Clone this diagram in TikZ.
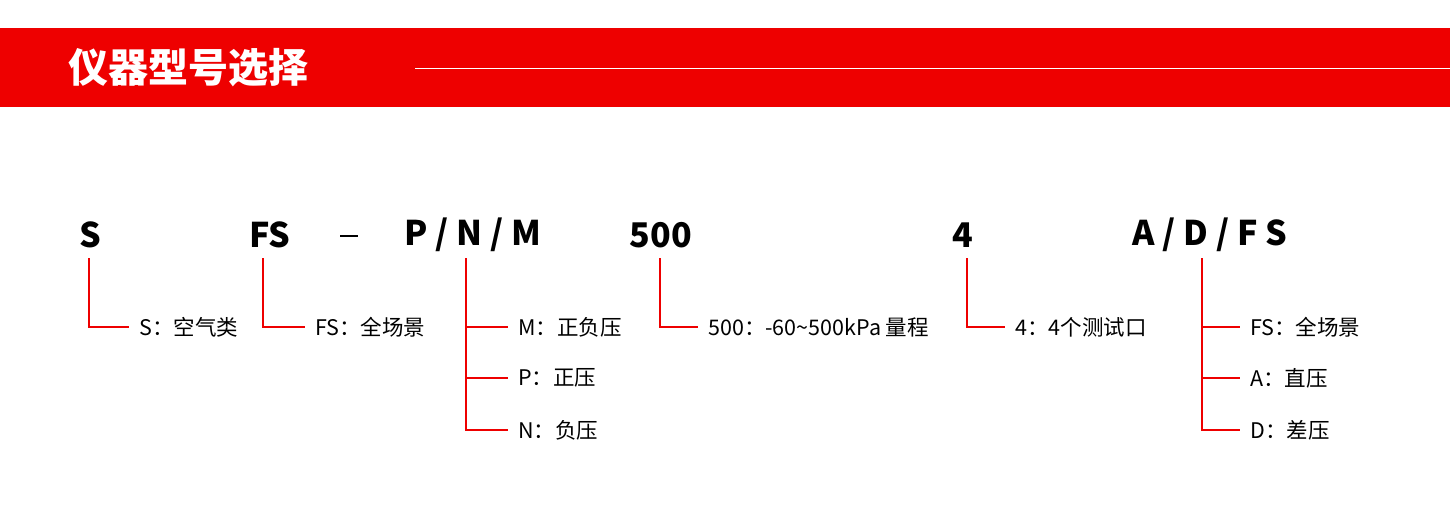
\documentclass[tikz,border=0pt]{standalone}
\usepackage{fontspec}
\setmainfont{Noto Sans CJK SC}
\definecolor{hred}{HTML}{EE0000}
\begin{document}
\begin{tikzpicture}[x=1pt,y=-1pt,
  code/.style={font=\fontsize{34}{34}\selectfont\bfseries,inner sep=0},
  lab/.style={font=\fontsize{21.5}{22}\selectfont,anchor=west,inner sep=0},
  rl/.style={draw=hred,line width=1.4pt}]
\useasboundingbox (0,0) rectangle (1450,525);
\fill[hred] (0,28) rectangle (1450,107);
\node[anchor=west,text=white,font=\fontsize{40}{40}\selectfont\bfseries,inner sep=0] (title) at (68,68) {仪器型号选择};
\coordinate (la) at (415,68); \coordinate (lb) at (1450,68);
\draw[white,line width=0.8pt] (la) -- (lb);
\node[code] (c1) at (90,235) {S};
\node[code] (c2) at (270,235) {FS};
\node[inner sep=0] (c3) at (349,236) {\rule{18pt}{2.5pt}};
\node[code] (c4) at (473,235) {P / N / M};
\node[code] (c5) at (661,235) {500};
\node[code] (c6) at (963,235) {4};
\node[code] (c7) at (1210,235) {A / D / F S};
% labels
\node[lab] (l1) at (139,327) {S：空气类};
\node[lab] (l2) at (315,327) {FS：全场景};
\node[lab] (l3a) at (518,327) {M：正负压};
\node[lab] (l3b) at (518,378) {P：正压};
\node[lab] (l3c) at (518,430) {N：负压};
\node[lab] (l4) at (708,327) {500：-60\textasciitilde 500kPa 量程};
\node[lab] (l5) at (1015,327) {4：4个测试口};
\node[lab] (l6a) at (1250,327) {FS：全场景};
\node[lab] (l6b) at (1250,378) {A：直压};
\node[lab] (l6c) at (1250,430) {D：差压};
% connectors
\draw[rl] (89,258) |- ([xshift=-10pt]l1.west);
\draw[rl] (263,258) |- ([xshift=-10pt]l2.west);
\draw[rl] (466,258) |- ([xshift=-10pt]l3c.west);
\draw[rl] (466,327) -- ([xshift=-10pt]l3a.west);
\draw[rl] (466,378) -- ([xshift=-10pt]l3b.west);
\draw[rl] (660,258) |- ([xshift=-10pt]l4.west);
\draw[rl] (967,258) |- ([xshift=-10pt]l5.west);
\draw[rl] (1202,258) |- ([xshift=-10pt]l6c.west);
\draw[rl] (1202,327) -- ([xshift=-10pt]l6a.west);
\draw[rl] (1202,378) -- ([xshift=-10pt]l6b.west);
\end{tikzpicture}
\end{document}
